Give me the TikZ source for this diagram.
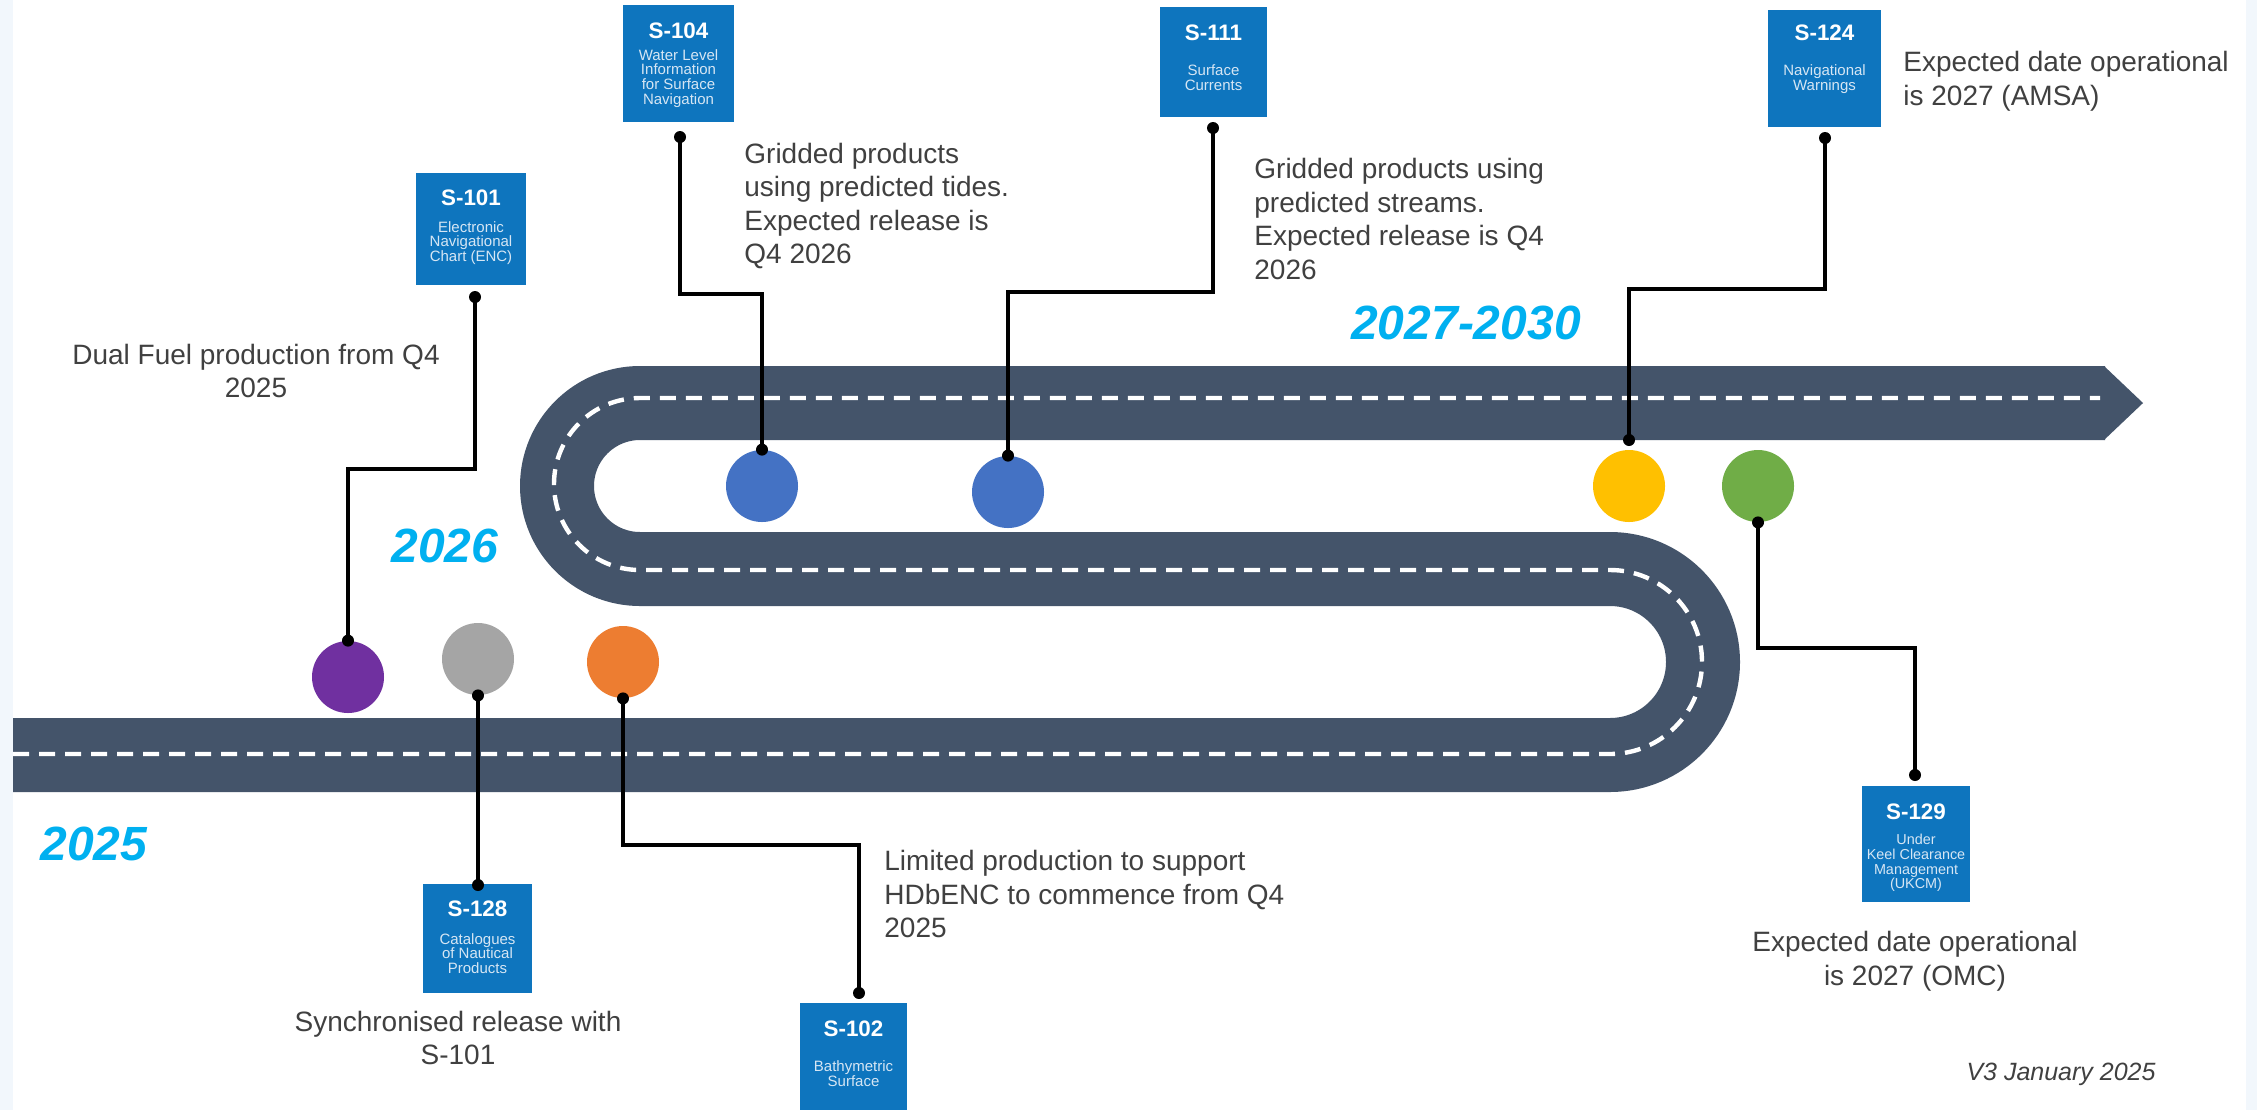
\documentclass[tikz,border=0pt]{standalone}
\usepackage{fontspec}
\setmainfont{Liberation Sans}
\usetikzlibrary{calc}
\definecolor{road}{HTML}{44546A}
\definecolor{boxblue}{HTML}{0E75BE}
\definecolor{subtxt}{HTML}{D6E6F4}
\definecolor{txt}{HTML}{404040}
\definecolor{yearblue}{HTML}{00B0F0}
\definecolor{edgeblue}{HTML}{F2F7FC}
\definecolor{cpurple}{HTML}{7030A0}
\definecolor{cgray}{HTML}{A5A5A5}
\definecolor{corange}{HTML}{ED7D31}
\definecolor{cblue}{HTML}{4472C4}
\definecolor{cyellow}{HTML}{FFC000}
\definecolor{cgreen}{HTML}{70AD47}
\begin{document}
\begin{tikzpicture}[x=0.5pt,y=-0.5pt,
  roadline/.style={draw=road, line width=37pt, line cap=butt, line join=round},
  dashline/.style={draw=white, line width=2.2pt, dash pattern=on 8pt off 5pt},
  milestone/.style={circle, minimum size=36pt, inner sep=0pt, draw=none},
  conn/.style={draw=black, line width=1.6pt},
  pbox/.style={rectangle, fill=boxblue, inner sep=0pt, draw=none},
  ptitle/.style={text=white, font=\bfseries\fontsize{11.2}{12}\selectfont, inner sep=0pt},
  psub/.style={text=subtxt, font=\fontsize{7.5}{7.4}\selectfont, align=center, inner sep=0pt},
  body/.style={text=txt, font=\fontsize{14}{16.8}\selectfont, inner sep=0pt},
  year/.style={text=yearblue, font=\bfseries\itshape\fontsize{24}{28}\selectfont, inner sep=0pt},
  note/.style={text=txt, font=\itshape\fontsize{12.5}{15}\selectfont, inner sep=0pt}
]
\useasboundingbox (0,0) rectangle (2257,1110);
\fill[white] (0,0) rectangle (2257,1110);
\fill[edgeblue] (0,0) rectangle (13,1110);
\fill[edgeblue] (2246,0) rectangle (2257,1110);

% road
\draw[roadline] (13,755) -- (1610,755) arc[start angle=90,end angle=-90,radius=93]
  -- (640,569) arc[start angle=90,end angle=270,radius=83] -- (2105,403);
\fill[road] (2104,366) -- (2143,403) -- (2104,440) -- cycle;
\draw[dashline] (13,754) -- (1610,754) arc[start angle=90,end angle=-90,radius=92]
  -- (640,570) arc[start angle=90,end angle=270,radius=86] -- (2100,398);

% milestones
\node[milestone, fill=cpurple] (c101) at (348,677) {};
\node[milestone, fill=cgray]   (c128) at (478,659) {};
\node[milestone, fill=corange] (c102) at (623,662) {};
\node[milestone, fill=cblue]   (c104) at (762,486) {};
\node[milestone, fill=cblue]   (c111) at (1008,492) {};
\node[milestone, fill=cyellow] (c124) at (1629,486) {};
\node[milestone, fill=cgreen]  (c129) at (1758,486) {};

% product boxes
\node[pbox, minimum width=55pt, minimum height=56pt] (b101) at (471,229) {};
\node[ptitle] (t101) at ($(b101.north)+(0,25)$) {S-101};
\node[psub] (s101) at ($(b101.center)+(0,14)$) {Electronic\\Navigational\\Chart (ENC)};

\node[pbox, minimum width=55.5pt, minimum height=58.5pt] (b104) at (678.5,63.5) {};
\node[ptitle] (t104) at ($(b104.north)+(0,26)$) {S-104};
\node[psub] (s104) at ($(b104.center)+(0,15)$) {Water Level\\Information\\for Surface\\Navigation};

\node[pbox, minimum width=53.5pt, minimum height=55pt] (b111) at (1213.5,62) {};
\node[ptitle] (t111) at ($(b111.north)+(0,26)$) {S-111};
\node[psub] (s111) at ($(b111.center)+(0,16)$) {Surface\\Currents};

\node[pbox, minimum width=56.5pt, minimum height=58.5pt] (b124) at (1824.5,68.5) {};
\node[ptitle] (t124) at ($(b124.north)+(0,23)$) {S-124};
\node[psub] (s124) at ($(b124.center)+(0,11)$) {Navigational\\Warnings};

\node[pbox, minimum width=54.5pt, minimum height=54.5pt] (b128) at (477.5,938.5) {};
\node[ptitle] (t128) at ($(b128.north)+(0,25)$) {S-128};
\node[psub] (s128) at ($(b128.center)+(0,15)$) {Catalogues\\of Nautical\\Products};

\node[pbox, minimum width=53.5pt, minimum height=53.5pt] (b102) at (853.5,1056.5) {};
\node[ptitle] (t102) at ($(b102.north)+(0,26)$) {S-102};
\node[psub] (s102) at ($(b102.center)+(0,17)$) {Bathymetric\\Surface};

\node[pbox, minimum width=54pt, minimum height=58pt] (b129) at (1916,844) {};
\node[ptitle] (t129) at ($(b129.north)+(0,26)$) {S-129};
\node[psub, font=\fontsize{7.2}{7.4}\selectfont] (s129) at ($(b129.center)+(0,19)$) {Under\\Keel Clearance\\Management\\(UKCM)};

% connector end points
\coordinate (d101) at (475,297);  \coordinate (k101) at (0,469);
\coordinate (d104) at (680,137);  \coordinate (k104) at (0,294);
\coordinate (d111) at (1213,128); \coordinate (k111) at (0,292);
\coordinate (d124) at (1825,138); \coordinate (k124) at (0,289);
\coordinate (e124) at (1629,440);
\coordinate (d128) at (478,885);
\coordinate (d102) at (859,993);  \coordinate (k102) at (0,845);
\coordinate (d129) at (1915,775); \coordinate (k129) at (0,648);

\draw[conn] (d101) -- (d101 |- k101) -| (c101.north);
\draw[conn] (d104) -- (d104 |- k104) -| (c104.north);
\draw[conn] (d111) -- (d111 |- k111) -| (c111.north);
\draw[conn] (d124) -- (d124 |- k124) -| (e124);
\draw[conn] (c128.south) -- (d128);
\draw[conn] (c102.south) -- (c102.south |- k102) -| (d102);
\draw[conn] (c129.south) -- (c129.south |- k129) -| (d129);

\foreach \p in {d101,c101.north,d104,c104.north,d111,c111.north,d124,e124,
                c128.south,d128,c102.south,d102,c129.south,d129}
  \fill[black] (\p) circle[radius=3pt];

% texts
\node[body, align=center] (tx101) at (256,371) {Dual Fuel production from Q4\\2025};
\node[body, align=left, anchor=west] (tx104) at (744,206) {Gridded products\\using predicted tides.\\Expected release is\\Q4 2026};
\node[body, align=left, anchor=west] (tx111) at (1254,219) {Gridded products using\\predicted streams.\\Expected release is Q4\\2026};
\node[body, align=left, anchor=west] (tx124) at (1903,81) {Expected date operational\\is 2027 (AMSA)};
\node[body, align=left, anchor=west] (tx102) at (884,894) {Limited production to support\\HDbENC to commence from Q4\\2025};
\node[body, align=center] (tx129) at (1915,961) {Expected date operational\\is 2027 (OMC)};
\node[body, align=center] (tx128) at (458,1038) {Synchronised release with\\S-101};

\node[year] (y2025) at (94,844) {2025};
\node[year] (y2026) at (445,546) {2026};
\node[year] (y2027) at (1466,323) {2027-2030};

\node[note] (ver) at (2061,1074) {V3 January 2025};
\end{tikzpicture}
\end{document}
